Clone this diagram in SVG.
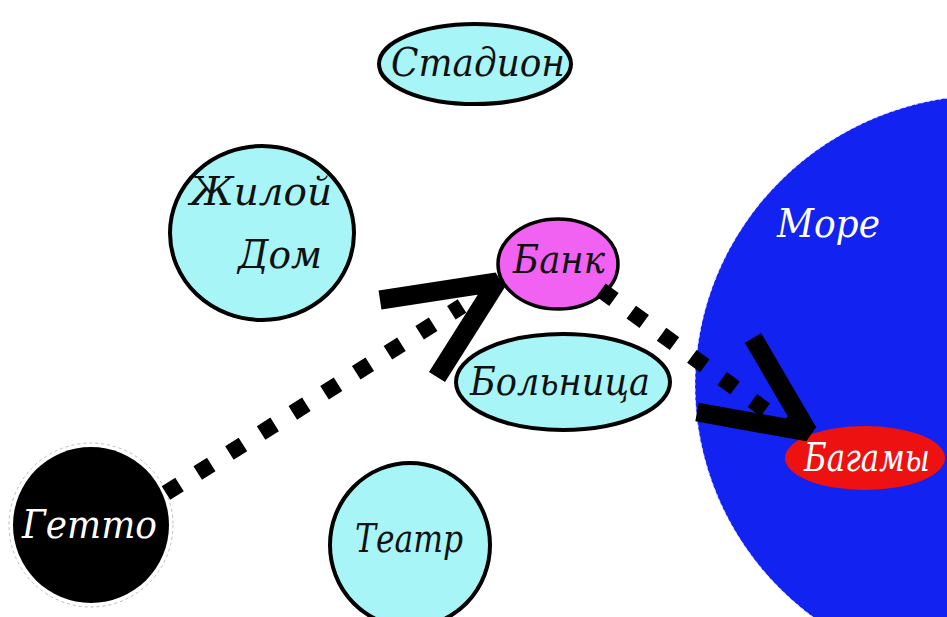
<svg xmlns="http://www.w3.org/2000/svg" width="947" height="617" viewBox="0 0 947 617">
<style>
.bg{fill:#ffffff}
.place{fill:#a8f5f7;stroke:#000;stroke-width:4}
.bank{fill:#f262f2;stroke:#000;stroke-width:3.5}
.lbl{font-family:"DejaVu Serif","Liberation Serif",serif;font-style:italic;font-size:40px;fill:#111}
.wlbl{font-family:"DejaVu Serif","Liberation Serif",serif;font-style:italic;font-size:40px;fill:#fff}
.dots{fill:none;stroke:#000;stroke-width:16;stroke-dasharray:16 21.5}
.head{fill:none;stroke:#000;stroke-width:19;stroke-linejoin:bevel}
</style>
<rect class="bg" x="0" y="0" width="947" height="617"/>
<g id="sea">
  <ellipse cx="990" cy="385" rx="295" ry="290" fill="#1222f0" stroke="#e0e0ff" stroke-width="1" stroke-dasharray="3 3"/>
  <text class="wlbl" x="777" y="237" textLength="103" lengthAdjust="spacingAndGlyphs">Море</text>
</g>
<g id="stadium">
  <ellipse class="place" cx="475" cy="64" rx="96" ry="40"/>
  <text class="lbl" x="391" y="76" textLength="174" lengthAdjust="spacingAndGlyphs">Стадион</text>
</g>
<g id="house">
  <ellipse class="place" cx="262" cy="233" rx="92" ry="87"/>
  <text class="lbl" x="190" y="205" textLength="142" lengthAdjust="spacingAndGlyphs">Жилой</text>
  <text class="lbl" x="238" y="268" textLength="84" lengthAdjust="spacingAndGlyphs">Дом</text>
</g>
<g id="bank">
  <ellipse class="bank" cx="558" cy="264" rx="60" ry="45"/>
  <text class="lbl" x="513" y="273" textLength="92" lengthAdjust="spacingAndGlyphs">Банк</text>
</g>
<g id="hospital">
  <ellipse class="place" cx="563" cy="382" rx="107" ry="48"/>
  <text class="lbl" x="470" y="395" textLength="180" lengthAdjust="spacingAndGlyphs">Больница</text>
</g>
<g id="theatre">
  <ellipse class="place" cx="410" cy="545" rx="80" ry="82"/>
  <text class="lbl" x="355" y="552" textLength="108" lengthAdjust="spacingAndGlyphs">Театр</text>
</g>
<g id="ghetto">
  <circle cx="91" cy="525" r="82" fill="none" stroke="#bbbbbb" stroke-width="1" stroke-dasharray="3 3"/>
  <circle cx="91" cy="525" r="78" fill="#000"/>
  <text class="wlbl" x="22" y="538" textLength="135" lengthAdjust="spacingAndGlyphs">Гетто</text>
</g>
<g id="bahamas">
  <ellipse cx="865" cy="458" rx="80" ry="32" fill="#ee1111"/>
  <text class="wlbl" x="804" y="471" font-size="34" textLength="126" lengthAdjust="spacingAndGlyphs">Багамы</text>
</g>
<g id="connectors">
  <path class="dots" d="M166,493 L462,306"/>
  <polyline class="head" points="380,300 497,282 437,377"/>
  <path class="dots" d="M601,290 L790,428"/>
  <polyline class="head" points="697,412 808,432 753,338"/>
</g>
</svg>
